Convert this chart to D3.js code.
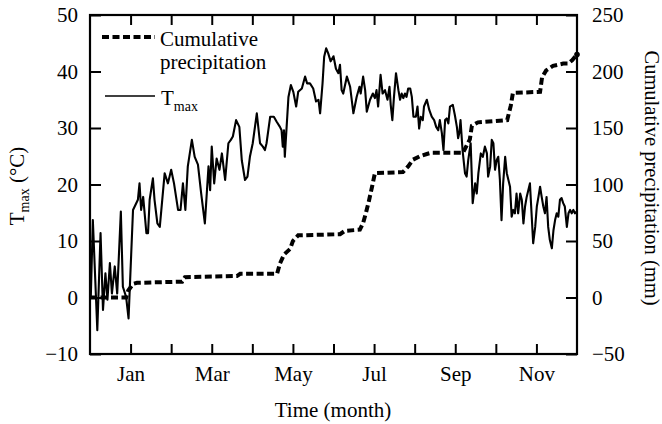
<!DOCTYPE html>
<html>
<head>
<meta charset="utf-8">
<script src="https://cdn.jsdelivr.net/npm/d3@7"></script>
<style>
  body { margin: 0; background: #fff; }
  text { font-family: "Liberation Serif", "Times New Roman", serif; fill: #000; }
</style>
</head>
<body>
<svg class="chart"></svg>
<script>
const width = 662;
const height = 424;
const margin = { left: 90, right: 85, top: 15, bottom: 70 };

// months counted from Jan = 0, axis runs from Dec (-1) to end of Nov (11)
const monthTicks = [0, 1, 2, 3, 4, 5, 6, 7, 8, 9, 10];
const monthLabels = ['Jan', '', 'Mar', '', 'May', '', 'Jul', '', 'Sep', '', 'Nov'];
const tempTicks = [-10, 0, 10, 20, 30, 40, 50];
const precTicks = [-50, 0, 50, 100, 150, 200, 250];

// daily max temperature
const tmaxMonth = [
  -0.98, -0.93, -0.82, -0.74, -0.68, -0.62, -0.57, -0.51, -0.46, -0.39, -0.33, -0.24, -0.19, -0.11, -0.05,
  0.06, 0.18, 0.22, 0.26, 0.31, 0.39, 0.43, 0.47, 0.55, 0.59, 0.66, 0.72, 0.84, 0.92, 1.00,
  1.07, 1.17, 1.23, 1.29, 1.35, 1.41, 1.51, 1.58, 1.66, 1.74, 1.83, 1.92, 1.96,
  2.00, 2.06, 2.12, 2.19, 2.25, 2.33, 2.41, 2.47, 2.52, 2.60, 2.68, 2.74, 2.82, 2.88, 2.94,
  3.01, 3.11, 3.19, 3.26, 3.31, 3.35, 3.44, 3.53, 3.60, 3.68, 3.72, 3.75, 3.78, 3.80, 3.89, 3.95,
  4.01, 4.08, 4.13, 4.22, 4.30, 4.35, 4.42, 4.50, 4.57, 4.63, 4.67, 4.73, 4.77, 4.82, 4.87, 4.93,
  5.00, 5.06, 5.12, 5.16, 5.20, 5.24, 5.33, 5.41, 5.49, 5.57, 5.64, 5.67, 5.73, 5.78, 5.82, 5.90, 5.97,
  6.02, 6.06, 6.10, 6.16, 6.21, 6.27, 6.33, 6.38, 6.41, 6.45, 6.49, 6.54, 6.60, 6.64, 6.68, 6.72, 6.76,
  6.80, 6.84, 6.89, 6.93, 6.97,
  7.03, 7.07, 7.11, 7.15, 7.20, 7.23, 7.30, 7.36, 7.42, 7.48, 7.53, 7.58, 7.62, 7.67, 7.71, 7.75, 7.79,
  7.83, 7.87, 7.94, 7.99,
  8.04, 8.07, 8.10, 8.13, 8.18, 8.24, 8.28, 8.32, 8.38, 8.43, 8.49, 8.53, 8.57, 8.63, 8.68, 8.73, 8.78,
  8.81, 8.86, 8.90, 8.94, 8.98,
  9.02, 9.06, 9.10, 9.14, 9.18, 9.23, 9.27, 9.31, 9.35, 9.39, 9.43, 9.47, 9.51, 9.55, 9.60, 9.64, 9.68,
  9.72, 9.76, 9.80, 9.84, 9.88, 9.92, 9.97,
  10.01, 10.05, 10.09, 10.13, 10.17, 10.21, 10.25, 10.29, 10.33, 10.38, 10.42, 10.46, 10.50, 10.54,
  10.58, 10.62, 10.66, 10.70, 10.75, 10.79, 10.83, 10.87, 10.91, 10.95, 10.99
];
const tmaxValue = [
  0.1, 13.7, -5.8, 11.4, -2.2, 4.3, -0.4, 6.1, 0.7, 5.5, 0.7, 15.2, 1.9, 0.1, -3.7,
  15.5, 17.3, 20.2, 15.5, 17.8, 11.4, 11.4, 17.3, 21.1, 17.3, 13.1, 12.5, 22.0, 20.2, 22.6,
  20.2, 15.5, 15.5, 20.2, 15.5, 23.2, 27.9, 24.9, 23.5, 18.4, 13.1, 23.2, 19.0,
  26.7, 20.2, 24.6, 22.6, 25.5, 20.8, 27.3, 27.9, 28.5, 31.4, 30.2, 24.3, 20.8, 21.4, 24.9,
  27.3, 32.6, 27.3, 26.7, 26.1, 27.3, 32.0, 32.0, 31.1, 30.2, 29.6, 26.7, 29.6, 24.9, 35.5, 37.6,
  36.4, 33.8, 36.4, 37.0, 39.1, 37.9, 37.9, 37.0, 34.7, 35.0, 32.6, 37.9, 42.6, 44.1, 43.2, 41.8,
  42.7, 40.5, 39.7, 41.2, 36.7, 36.1, 39.1, 37.3, 32.6, 35.5, 37.3, 36.1, 39.1, 36.7, 32.9, 35.0, 36.1,
  35.3, 36.7, 33.8, 39.4, 36.1, 36.7, 35.0, 37.3, 34.1, 31.4, 35.5, 39.7, 36.7, 35.0, 36.1, 35.3, 36.1,
  35.5, 37.0, 37.0, 35.5, 32.0,
  32.0, 33.8, 29.9, 32.0, 31.4, 33.8, 35.0, 33.2, 32.0, 31.4, 30.2, 29.6, 31.4, 29.1, 26.1, 31.4, 31.7,
  30.8, 33.8, 34.1, 32.3,
  30.2, 28.2, 29.1, 31.4, 26.1, 22.0, 21.4, 24.3, 27.3, 16.7, 20.2, 18.4, 22.0, 25.5, 24.9, 26.7, 25.5,
  21.4, 23.2, 27.9, 27.3, 22.6,
  24.3, 24.9, 20.8, 13.7, 20.2, 24.9, 22.0, 20.8, 19.6, 14.3, 15.5, 14.9, 18.4, 14.9, 18.4, 17.3, 13.1,
  16.1, 17.8, 19.0, 20.2, 14.9, 9.6, 12.5,
  16.1, 17.8, 19.6, 17.8, 16.1, 14.9, 17.8, 12.5, 10.2, 8.7, 11.9, 13.7, 14.9, 14.3,
  17.3, 17.6, 16.7, 16.1, 12.5, 14.9, 15.5, 14.9, 15.5, 14.9, 15.2
];

// cumulative precipitation (mm)
const precMonth = [
  -1.00, -0.11, -0.06, 0.06, 0.16, 1.27, 1.34, 2.62, 2.70, 3.61, 3.68, 3.78, 3.93, 4.00, 4.13,
  5.16, 5.28, 5.65, 5.73, 5.80, 5.87, 5.95, 6.02, 6.71, 6.84, 6.96, 7.13, 7.30, 7.40, 8.19,
  8.36, 8.41, 8.56, 9.28, 9.37, 9.42, 10.09, 10.14, 10.24, 10.41, 10.66, 10.78, 10.88, 11.00
];
const precValue = [
  0, 0, 6, 12, 13, 14, 18, 19, 21, 21, 30, 38, 43, 50, 55,
  56, 59, 60, 66, 75, 85, 98, 110, 111, 116, 122, 125, 127, 128, 128,
  140, 152, 155, 157, 170, 181, 182, 195, 201, 205, 207, 207, 210, 215
];

const svg = d3.select('.chart')
  .attr('width', width)
  .attr('height', height)

const x = d3.scaleLinear()
  .domain([-1, 11])
  .range([margin.left, width - margin.right])

const yT = d3.scaleLinear()
  .domain([-10, 50])
  .range([height - margin.bottom, margin.top])

const yP = d3.scaleLinear()
  .domain([-50, 250])
  .range([height - margin.bottom, margin.top])

const x0 = x.range()[0], x1 = x.range()[1];
const y0 = yT.range()[0], y1 = yT.range()[1];

// axes, ticks pointing inward
const bottomAxis = d3.axisBottom(x).tickValues(monthTicks).tickSizeInner(-10).tickSizeOuter(0)
  .tickPadding(12).tickFormat((d, i) => monthLabels[i])
const topAxis = d3.axisTop(x).tickValues(monthTicks).tickSizeInner(-10).tickSizeOuter(0).tickFormat('')
const leftAxis = d3.axisLeft(yT).tickValues(tempTicks).tickSizeInner(-11).tickSizeOuter(0)
  .tickPadding(12).tickFormat(d => d < 0 ? '\u2212' + Math.abs(d) : d)
const rightAxis = d3.axisRight(yP).tickValues(precTicks).tickSizeInner(-11).tickSizeOuter(0)
  .tickPadding(15).tickFormat(d => d < 0 ? '\u2212' + Math.abs(d) : d)

const axes = [
  svg.append('g').attr('transform', `translate(0,${y0})`).call(bottomAxis),
  svg.append('g').attr('transform', `translate(0,${y1})`).call(topAxis),
  svg.append('g').attr('transform', `translate(${x0},0)`).call(leftAxis),
  svg.append('g').attr('transform', `translate(${x1},0)`).call(rightAxis)
]
axes.forEach(g => {
  g.select('.domain').remove()
  g.selectAll('.tick line').attr('stroke', '#000').attr('stroke-width', 2)
  g.selectAll('.tick text').style('font-size', '21px').attr('fill', '#000')
})

svg.append('rect')
  .attr('x', x0)
  .attr('y', y1)
  .attr('width', x1 - x0)
  .attr('height', y0 - y1)
  .attr('fill', 'none')
  .attr('stroke', '#000')
  .attr('stroke-width', 2.2)

// precipitation
const precData = precMonth.map((m, i) => [m, precValue[i]])
svg.append('path')
  .datum(precData)
  .attr('d', d3.line().x(d => x(d[0])).y(d => yP(d[1])))
  .attr('fill', 'none')
  .attr('stroke', '#000')
  .attr('stroke-width', 4)
  .attr('stroke-dasharray', '7,3.5')

svg.append('circle')
  .attr('cx', x(precData[precData.length - 1][0]))
  .attr('cy', yP(precData[precData.length - 1][1]))
  .attr('r', 2.8)
  .attr('fill', '#000')

// Tmax
const tmaxData = tmaxMonth.map((m, i) => [m, tmaxValue[i]])
svg.append('path')
  .datum(tmaxData)
  .attr('d', d3.line().x(d => x(d[0])).y(d => yT(d[1])))
  .attr('fill', 'none')
  .attr('stroke', '#000')
  .attr('stroke-width', 2.1)
  .attr('stroke-linejoin', 'round')

// legend
const legend = svg.append('g')
legend.append('line')
  .attr('x1', 102).attr('x2', 155).attr('y1', 37).attr('y2', 37)
  .attr('stroke', '#000').attr('stroke-width', 4).attr('stroke-dasharray', '7,3.5')
legend.append('text').attr('x', 160).attr('y', 46).style('font-size', '21px').text('Cumulative')
legend.append('text').attr('x', 160).attr('y', 69).style('font-size', '21px').text('precipitation')
legend.append('line')
  .attr('x1', 105).attr('x2', 155).attr('y1', 96).attr('y2', 96)
  .attr('stroke', '#000').attr('stroke-width', 1.5)
const tLeg = legend.append('text').attr('x', 161).attr('y', 105).style('font-size', '21px')
tLeg.append('tspan').text('T')
tLeg.append('tspan').attr('dy', 6).style('font-size', '14px').text('max')

// axis titles
svg.append('text')
  .attr('x', 333).attr('y', 417)
  .attr('text-anchor', 'middle')
  .style('font-size', '21px')
  .text('Time (month)')

const leftTitle = svg.append('text')
  .attr('transform', 'translate(24,186) rotate(-90)')
  .attr('text-anchor', 'middle')
  .style('font-size', '21px')
leftTitle.append('tspan').text('T')
leftTitle.append('tspan').attr('dy', 5).style('font-size', '14px').text('max')
leftTitle.append('tspan').attr('dy', -5).text(' (\u00b0C)')

svg.append('text')
  .attr('transform', 'translate(645,178) rotate(90)')
  .attr('text-anchor', 'middle')
  .style('font-size', '20.5px')
  .text('Cumulative precipitation (mm)')
</script>
</body>
</html>
